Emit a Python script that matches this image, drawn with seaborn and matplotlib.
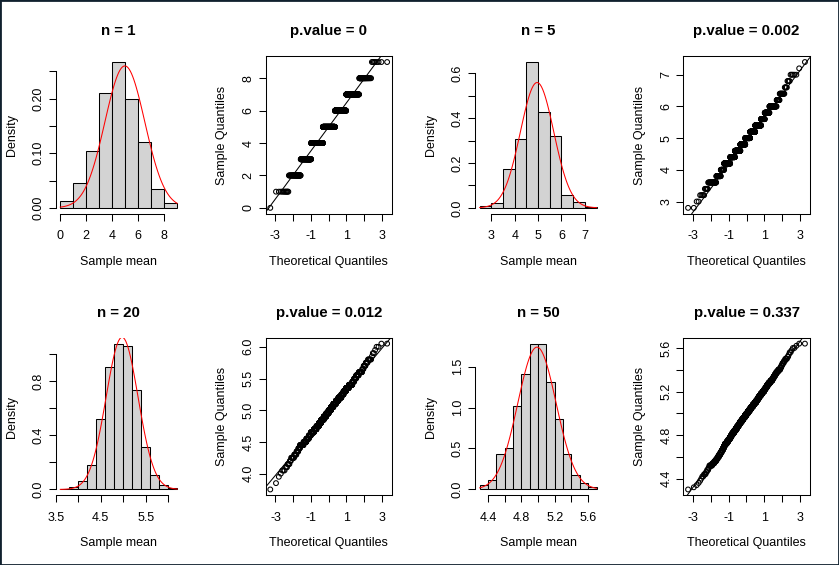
import numpy as np
import matplotlib
matplotlib.use("Agg")
import matplotlib.pyplot as plt
import seaborn as sns
from statistics import NormalDist
from matplotlib.patches import Rectangle

# ---------------- data ----------------
N_SIMS = 1000

# n = 1 : discrete sample values and their counts (from histogram / QQ plot)
n1_values = [0, 1, 2, 3, 4, 5, 6, 7, 8, 9]
n1_counts = [1, 11, 45, 104, 210, 267, 199, 120, 35, 8]
n1_breaks = [0, 1, 2, 3, 4, 5, 6, 7, 8, 9]

# n = 5
n5_breaks = [2.5, 3.0, 3.5, 4.0, 4.5, 5.0, 5.5, 6.0, 6.5, 7.0, 7.5]
n5_density = [0.009, 0.022, 0.174, 0.303, 0.646, 0.423, 0.321, 0.058, 0.027, 0.004]
n5_step = 0.2
n5_range = [2.8, 7.4]

# n = 20
n20_breaks = [3.6, 3.8, 4.0, 4.2, 4.4, 4.6, 4.8, 5.0, 5.2, 5.4, 5.6, 5.8, 6.0, 6.2]
n20_density = [0.007, 0.015, 0.067, 0.18, 0.524, 0.915, 1.092, 1.07, 0.741,
               0.314, 0.112, 0.03, 0.012]
n20_step = 0.05
n20_range = [3.75, 6.05]

# n = 50
n50_breaks = [4.3, 4.4, 4.5, 4.6, 4.7, 4.8, 4.9, 5.0, 5.1, 5.2, 5.3, 5.4, 5.5, 5.6, 5.7]
n50_density = [0.06, 0.12, 0.426, 0.51, 1.035, 1.42, 1.79, 1.78, 1.324, 0.869,
               0.439, 0.18, 0.082, 0.029]
n50_step = 0.02
n50_range = [4.30, 5.64]

hist_titles = ["n = 1", "n = 5", "n = 20", "n = 50"]
qq_titles = ["p.value = 0", "p.value = 0.002", "p.value = 0.012", "p.value = 0.337"]

hist_xticks = [[0, 2, 4, 6, 8], [3, 4, 5, 6, 7],
               [3.5, 4.0, 4.5, 5.0, 5.5, 6.0],
               [4.4, 4.6, 4.8, 5.0, 5.2, 5.4, 5.6]]
hist_xlabels = [["0", "2", "4", "6", "8"], ["3", "4", "5", "6", "7"],
                ["3.5", "", "4.5", "", "5.5", ""],
                ["4.4", "", "4.8", "", "5.2", "", "5.6"]]
hist_yticks = [[0, 0.05, 0.10, 0.15, 0.20, 0.25],
               [0, 0.1, 0.2, 0.3, 0.4, 0.5, 0.6],
               [0, 0.2, 0.4, 0.6, 0.8, 1.0],
               [0, 0.5, 1.0, 1.5]]
hist_ylabels = [["0.00", "", "0.10", "", "0.20", ""],
                ["0.0", "", "0.2", "", "0.4", "", "0.6"],
                ["0.0", "", "0.4", "", "0.8", ""],
                ["0.0", "0.5", "1.0", "1.5"]]

qq_xticks = [-3, -2, -1, 0, 1, 2, 3]
qq_xlabels = ["-3", "", "-1", "", "1", "", "3"]
qq_yticks = [[0, 2, 4, 6, 8], [3, 4, 5, 6, 7],
             [4.0, 4.5, 5.0, 5.5, 6.0],
             [4.4, 4.6, 4.8, 5.0, 5.2, 5.4, 5.6]]
qq_ylabels = [["0", "2", "4", "6", "8"], ["3", "4", "5", "6", "7"],
              ["4.0", "4.5", "5.0", "5.5", "6.0"],
              ["4.4", "", "4.8", "", "5.2", "", "5.6"]]


# ---------------- helpers ----------------
def sample_from_counts(values, counts):
    return np.sort(np.repeat(np.asarray(values, float), counts))


def sample_from_hist(breaks, density, step, n_total, vrange):
    """Rebuild the sample implied by the read histogram: each bin's count is
    spread over the attainable values (multiples of `step`) inside the bin,
    limited to the observed min / max read from the QQ plot."""
    vmin, vmax = vrange
    vals = []
    for i, (lo, hi, d) in enumerate(zip(breaks[:-1], breaks[1:], density)):
        c = int(round(d * (hi - lo) * n_total))
        if c == 0:
            continue
        k_lo = int(np.floor(lo / step + 1e-9)) + (0 if i == 0 else 1)
        k_hi = int(np.floor(hi / step + 1e-9))
        grid = [round(k * step, 6) for k in range(k_lo, k_hi + 1)]
        inside = [g for g in grid if vmin - 1e-9 <= g <= vmax + 1e-9]
        if not inside:
            inside = [min(max(grid[0], vmin), vmax)]
        for j in range(c):
            vals.append(inside[int(np.floor((j + 0.5) / c * len(inside)))])
    vals = np.sort(np.asarray(vals, float))
    vals[0], vals[-1] = vmin, vmax
    return vals


def r_edges(breaks):
    """R's hist() uses right-closed bins; nudge the edges so values that sit
    exactly on a break fall into the bin on its left."""
    b = np.asarray(breaks, float)
    tol = 1e-7 * (b[1] - b[0])
    e = b + tol
    e[0] = b[0] - tol
    return e


samples = [
    sample_from_counts(n1_values, n1_counts),
    sample_from_hist(n5_breaks, n5_density, n5_step, N_SIMS, n5_range),
    sample_from_hist(n20_breaks, n20_density, n20_step, N_SIMS, n20_range),
    sample_from_hist(n50_breaks, n50_density, n50_step, N_SIMS, n50_range),
]
breaks_list = [n1_breaks, n5_breaks, n20_breaks, n50_breaks]

# ---------------- figure layout ----------------
plt.rcParams["font.family"] = ["Liberation Sans", "DejaVu Sans"]
FW, FH = 839, 565
fig = plt.figure(figsize=(FW / 100, FH / 100), dpi=100)
fig.patch.set_facecolor("white")

col_left = [55.6, 265.6, 475.0, 683.4]
row_top = [56.2, 337.8]
AW, AH = 126.2, 157.5

LW = 0.75
FS = 9
TITLE_FS = 10.8


def make_ax(r, c):
    x0 = col_left[c] / FW
    y0 = 1 - (row_top[r] + AH) / FH
    return fig.add_axes([x0, y0, AW / FW, AH / FH])


def style_common(ax, title, xlabel, ylabel):
    ax.set_title(title, fontsize=TITLE_FS, fontweight="bold", pad=15.3)
    ax.set_xlabel(xlabel, fontsize=FS)
    ax.set_ylabel(ylabel, fontsize=FS)
    ax.xaxis.set_label_coords(0.5, -42 / AH)
    ax.yaxis.set_label_coords(-37.5 / AW, 0.5)
    ax.tick_params(direction="out", length=5, width=LW, labelsize=FS,
                   colors="black")
    ax.tick_params(axis="x", pad=6.8)
    ax.tick_params(axis="y", pad=3.0)
    ax.set_facecolor("white")


positions = [(0, 0), (0, 2), (1, 0), (1, 2)]

for k in range(4):
    sample = samples[k]
    breaks = breaks_list[k]
    r, c = positions[k]

    # ----- histogram with fitted normal curve -----
    ax = make_ax(r, c)
    edges = r_edges(breaks)
    sns.histplot(x=sample, bins=edges, stat="density", color="#D3D3D3",
                 alpha=1, edgecolor="black", linewidth=LW, ax=ax)
    hist_vals, _ = np.histogram(sample, bins=edges, density=True)
    mu = float(np.mean(sample))
    sd = float(np.std(sample, ddof=1))
    nd = NormalDist(mu, sd)
    xs = np.linspace(breaks[0], breaks[-1], 101)
    ys = np.array([nd.pdf(v) for v in xs])
    sns.lineplot(x=xs, y=ys, color="red", linewidth=LW, ax=ax)

    ymax = float(hist_vals.max())
    xr = breaks[-1] - breaks[0]
    ax.set_xlim(breaks[0] - 0.04 * xr, breaks[-1] + 0.04 * xr)
    ax.set_ylim(-0.04 * ymax, ymax * 1.04)

    ax.set_xticks(hist_xticks[k], hist_xlabels[k])
    ax.set_yticks(hist_yticks[k], hist_ylabels[k], rotation=90, va="center")
    for s in ["top", "right"]:
        ax.spines[s].set_visible(False)
    ax.spines["left"].set_bounds(hist_yticks[k][0], hist_yticks[k][-1])
    ax.spines["bottom"].set_bounds(hist_xticks[k][0], hist_xticks[k][-1])
    for s in ["left", "bottom"]:
        ax.spines[s].set_linewidth(LW)
    style_common(ax, hist_titles[k], "Sample mean", "Density")

    # ----- normal QQ plot -----
    axq = make_ax(r, c + 1)
    n = len(sample)
    std_norm = NormalDist()
    theo = np.array([std_norm.inv_cdf((i - 0.5) / n) for i in range(1, n + 1)])
    sns.scatterplot(x=theo, y=sample, marker="o", s=12, facecolor="none",
                    edgecolor="black", linewidth=LW, ax=axq)
    q1, q3 = np.percentile(sample, [25, 75])
    t1, t3 = std_norm.inv_cdf(0.25), std_norm.inv_cdf(0.75)
    axq.axline((t1, q1), (t3, q3), color="black", linewidth=LW)

    tr = theo.max() - theo.min()
    axq.set_xlim(theo.min() - 0.04 * tr, theo.max() + 0.04 * tr)
    yr = sample.max() - sample.min()
    axq.set_ylim(sample.min() - 0.04 * yr, sample.max() + 0.04 * yr)
    axq.set_xticks(qq_xticks, qq_xlabels)
    axq.set_yticks(qq_yticks[k], qq_ylabels[k], rotation=90, va="center")
    for s in axq.spines.values():
        s.set_linewidth(LW)
        s.set_color("black")
    style_common(axq, qq_titles[k], "Theoretical Quantiles", "Sample Quantiles")

# thin dark frame around the picture
fig.patches.append(Rectangle((0, 0), 1, 1, transform=fig.transFigure,
                             fill=False, edgecolor="#10202e", linewidth=2))

fig.savefig("out.png", dpi=100, facecolor="white")
